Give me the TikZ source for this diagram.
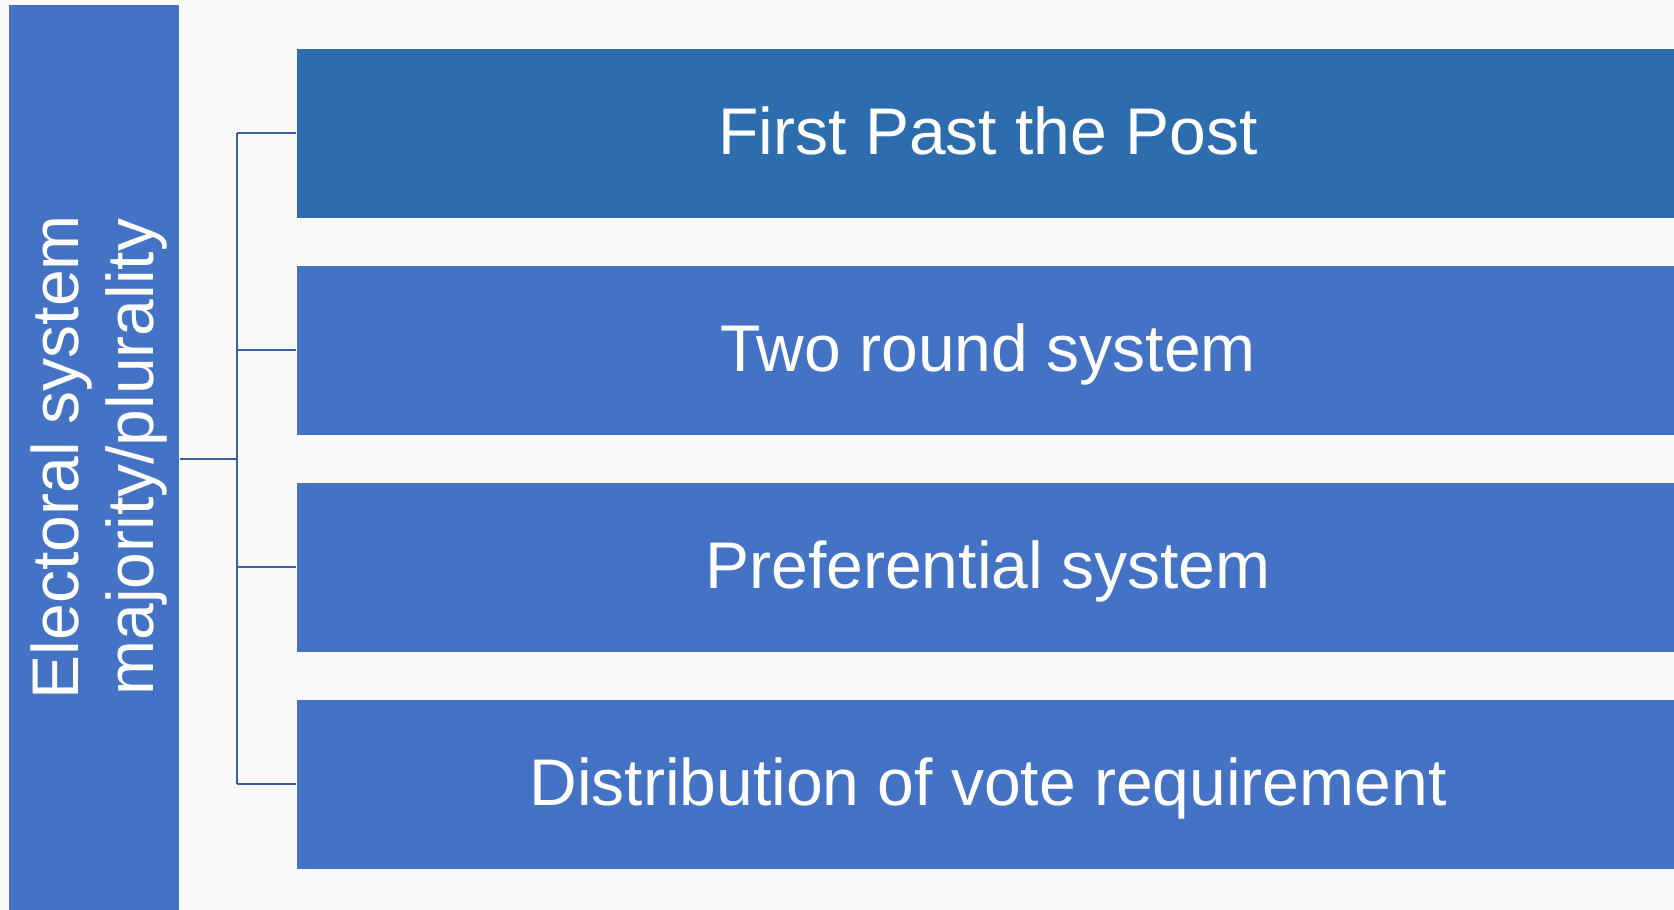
\documentclass[tikz,border=0pt]{standalone}
\usepackage{fontspec}
\setmainfont{Liberation Sans}
\usetikzlibrary{positioning}
\definecolor{bgcol}{HTML}{FAFAFA}
\definecolor{barblue}{HTML}{4472C4}
\definecolor{topblue}{HTML}{2E6DAD}
\definecolor{linkblue}{HTML}{3B5FA0}

\begin{document}
\begin{tikzpicture}[x=1pt, y=-1pt, line join=round,
    optbox/.style={draw=white, line width=1pt, fill=barblue, inner sep=0pt,
      minimum width=1384pt, minimum height=170pt, text=white,
      text height=48pt, text depth=5pt,
      font=\fontsize{66}{78}\selectfont},
    link/.style={draw=linkblue, line width=2pt}]
  % canvas
  \fill[bgcol] (0,0) rectangle (1674,910);
  \useasboundingbox (0,0) rectangle (1674,910);

  % side bar and its rotated title
  \node (bar) [draw=white, line width=1pt, fill=barblue, inner sep=0pt,
    minimum width=171pt, minimum height=914pt] at (93.5,461) {};
  \node (bartext) [rotate=90, text=white, align=center, inner sep=0pt,
    font=\fontsize{66}{75}\selectfont] at ([xshift=5pt, yshift=4pt]bar.center)
    {Electoral system\\majority/plurality};

  % the four options
  \node (box1) [optbox, fill=topblue] at (988,133) {First Past the Post};
  \node (box2) [optbox, below=46pt of box1] {Two round system};
  \node (box3) [optbox, below=46pt of box2] {Preferential system};
  \node (box4) [optbox, below=46pt of box3] {Distribution of vote requirement};

  % bracket
  \coordinate (hub) at (237,459);
  \draw[link] (bar.east |- hub) -- (hub);
  \draw[link] (hub |- box1.west) -- (hub |- box4.west);
  \foreach \b in {box1,box2,box3,box4}
    \draw[link] (hub |- \b.west) -- (\b.west);
\end{tikzpicture}
\end{document}
